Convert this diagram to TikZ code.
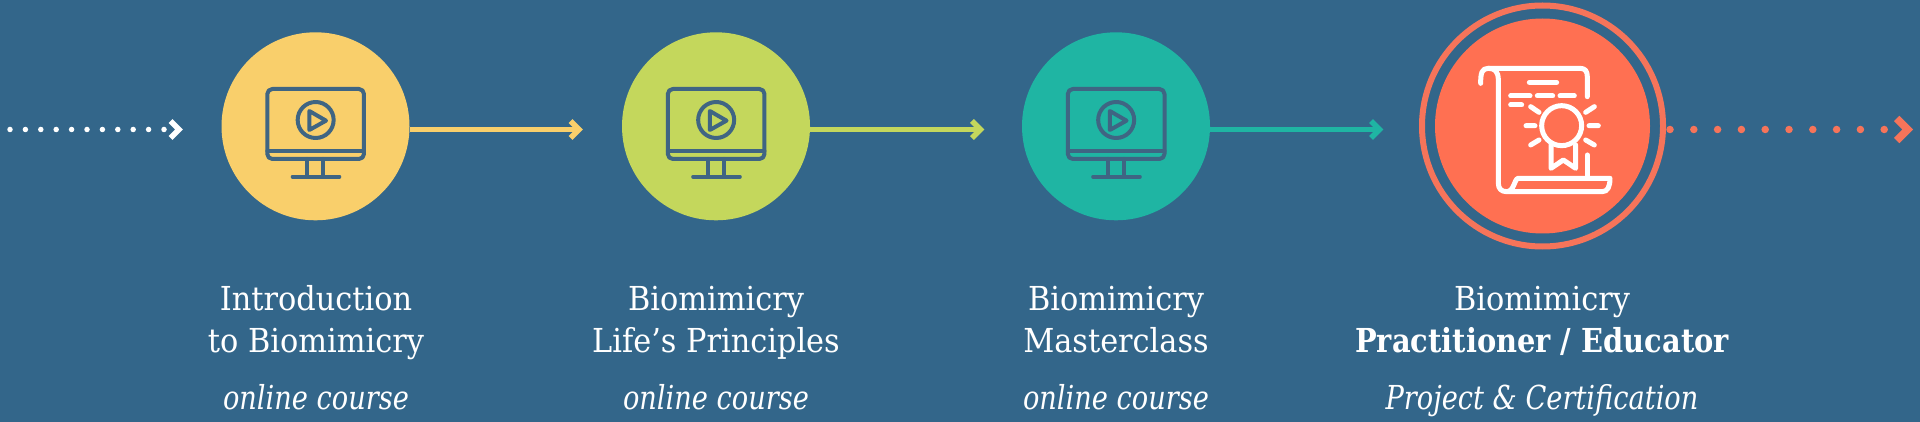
\documentclass[tikz,border=0pt]{standalone}
\usepackage{fontspec}
\setmainfont[FakeStretch=0.92,ItalicFeatures={FakeStretch=0.825},BoldFeatures={FakeStretch=0.875}]{DejaVu Serif}
\usetikzlibrary{calc}
\definecolor{bgblue}{HTML}{33668A}
\definecolor{icon}{HTML}{3F6583}
\definecolor{cyellow}{HTML}{F9CF6B}
\definecolor{cgreen}{HTML}{C4D75C}
\definecolor{cteal}{HTML}{1FB5A3}
\definecolor{ccoral}{HTML}{FF7052}
\definecolor{cring}{HTML}{F6745A}
\tikzset{
  disc/.style={circle,fill=#1,inner sep=0pt,minimum size=188pt},
  link/.style={draw=#1,line width=5pt},
  chev/.style={draw=#1,line width=5.5pt,line cap=butt,line join=miter},
  bigchev/.style={draw=#1,line width=7.5pt,line cap=butt,line join=miter},
  dots/.style={draw=#1,line cap=round,line width=5.5pt,dash pattern=on 0pt off 15.4pt},
  title/.style={text=white,anchor=base,font=\fontsize{33}{40}\selectfont,inner sep=0pt},
  sub/.style={text=white,anchor=base,font=\fontsize{33}{40}\selectfont\itshape,inner sep=0pt},
  monitor/.pic={
    \begin{scope}[shift={(-65.5,-51.3)},x=0.3333pt,y=-0.3333pt,draw=icon,line width=4pt,line cap=round,line join=round]
      \draw[rounded corners=5pt] (52,42) rectangle (342,252);
      \draw (52,228) -- (342,228);
      \draw (197,135) circle[radius=54];
      \draw (178,108) -- (178,165) -- (228,137) -- cycle;
      \draw (172,252) -- (172,305) (220,252) -- (220,305);
      \draw (128,305) -- (268,305);
    \end{scope}
  }
}
\newcommand{\chevat}[2]{\path[chev=#2] ($(#1)+(-8.5,-8.5)$) -- (#1) -- ($(#1)+(-8.5,8.5)$);}
\begin{document}
\begin{tikzpicture}[x=1pt,y=-1pt]
\useasboundingbox (0,0) rectangle (1920,422);
\fill[bgblue] (0,0) rectangle (1920,422);

\node[disc=cyellow] (c1) at (315.5,126.3) {};
\node[disc=cgreen] (c2) at (716,126.3) {};
\node[disc=cteal] (c3) at (1116,126.3) {};
\node[disc=ccoral,minimum size=215pt] (c4) at (1542.5,126) {};
\node[circle,draw=cring,line width=6pt,inner sep=0pt,minimum size=241pt] (r4) at (1542.5,126) {};

\coordinate (s0) at (10,129.5);
\coordinate (a0) at (179,129.5);
\coordinate (a1) at (579,129.5);
\coordinate (a2) at (980.4,129.5);
\coordinate (a3) at (1379.5,129.5);
\coordinate (a4) at (1907.7,129.5);

\path[dots=white] (s0) -- ($(a0)+(-14,0)$);
\chevat{a0}{white}
\path[link=cyellow] (c1.east |- a1) -- (a1);
\chevat{a1}{cyellow}
\path[link=cgreen] (c2.east |- a2) -- (a2);
\chevat{a2}{cgreen}
\path[link=cteal] (c3.east |- a3) -- (a3);
\chevat{a3}{cteal}
\path[dots=cring,line width=7.5pt,dash pattern=on 0pt off 23.8pt] (r4.east |- a4) ++(4,0) -- ($(a4)+(-20,0)$);
\path[bigchev=cring] ($(a4)+(-11,-11)$) -- (a4) -- ($(a4)+(-11,11)$);

\pic at (c1) {monitor};
\pic at (c2) {monitor};
\pic at (c3) {monitor};

\begin{scope}[shift={(1465,55)},x=0.3333pt,y=-0.3333pt,draw=white,line width=5pt,line cap=round,line join=round]
  \draw (47,85) .. controls (47,55) and (50,40) .. (70,40) -- (345,40) .. controls (360,40) and (367,48) .. (367,65) -- (367,125);
  \draw (70,40) .. controls (90,40) and (100,50) .. (100,75) -- (100,385) .. controls (100,402) and (110,410) .. (125,410) -- (412,410) .. controls (428,410) and (435,395) .. (435,370) -- (160,370) .. controls (148,370) and (148,410) .. (125,410);
  \draw (367,300) -- (367,370);
  \draw (193,82) -- (275,82) (137,123) -- (195,123) (217,123) -- (263,123) (285,123) -- (328,123) (137,150) -- (170,150);
  \draw (290,212) circle[radius=60];
  \draw (258,270) -- (258,340) -- (295,315) -- (332,340) -- (332,270);
  \draw (183,212) -- (210,212) (372,212) -- (400,212) (197,155) -- (222,172) (362,172) -- (388,155) (197,270) -- (222,255) (362,255) -- (388,270);
\end{scope}

\node[title] (t1a) at (316,310) {Introduction};
\node[title] (t1b) at (316,352.7) {to Biomimicry};
\node[sub] (t1c) at (316,409) {online course};
\node[title] (t2a) at (716,310) {Biomimicry};
\node[title] (t2b) at (716,352.7) {Life’s Principles};
\node[sub] (t2c) at (716,409) {online course};
\node[title] (t3a) at (1116,310) {Biomimicry};
\node[title] (t3b) at (1116,352.7) {Masterclass};
\node[sub] (t3c) at (1116,409) {online course};
\node[title] (t4a) at (1542,310) {Biomimicry};
\node[title,font=\fontsize{33}{40}\selectfont\bfseries] (t4b) at (1542,352.7) {Practitioner / Educator};
\node[sub] (t4c) at (1542,409) {Project \& Certification};
\end{tikzpicture}
\end{document}
